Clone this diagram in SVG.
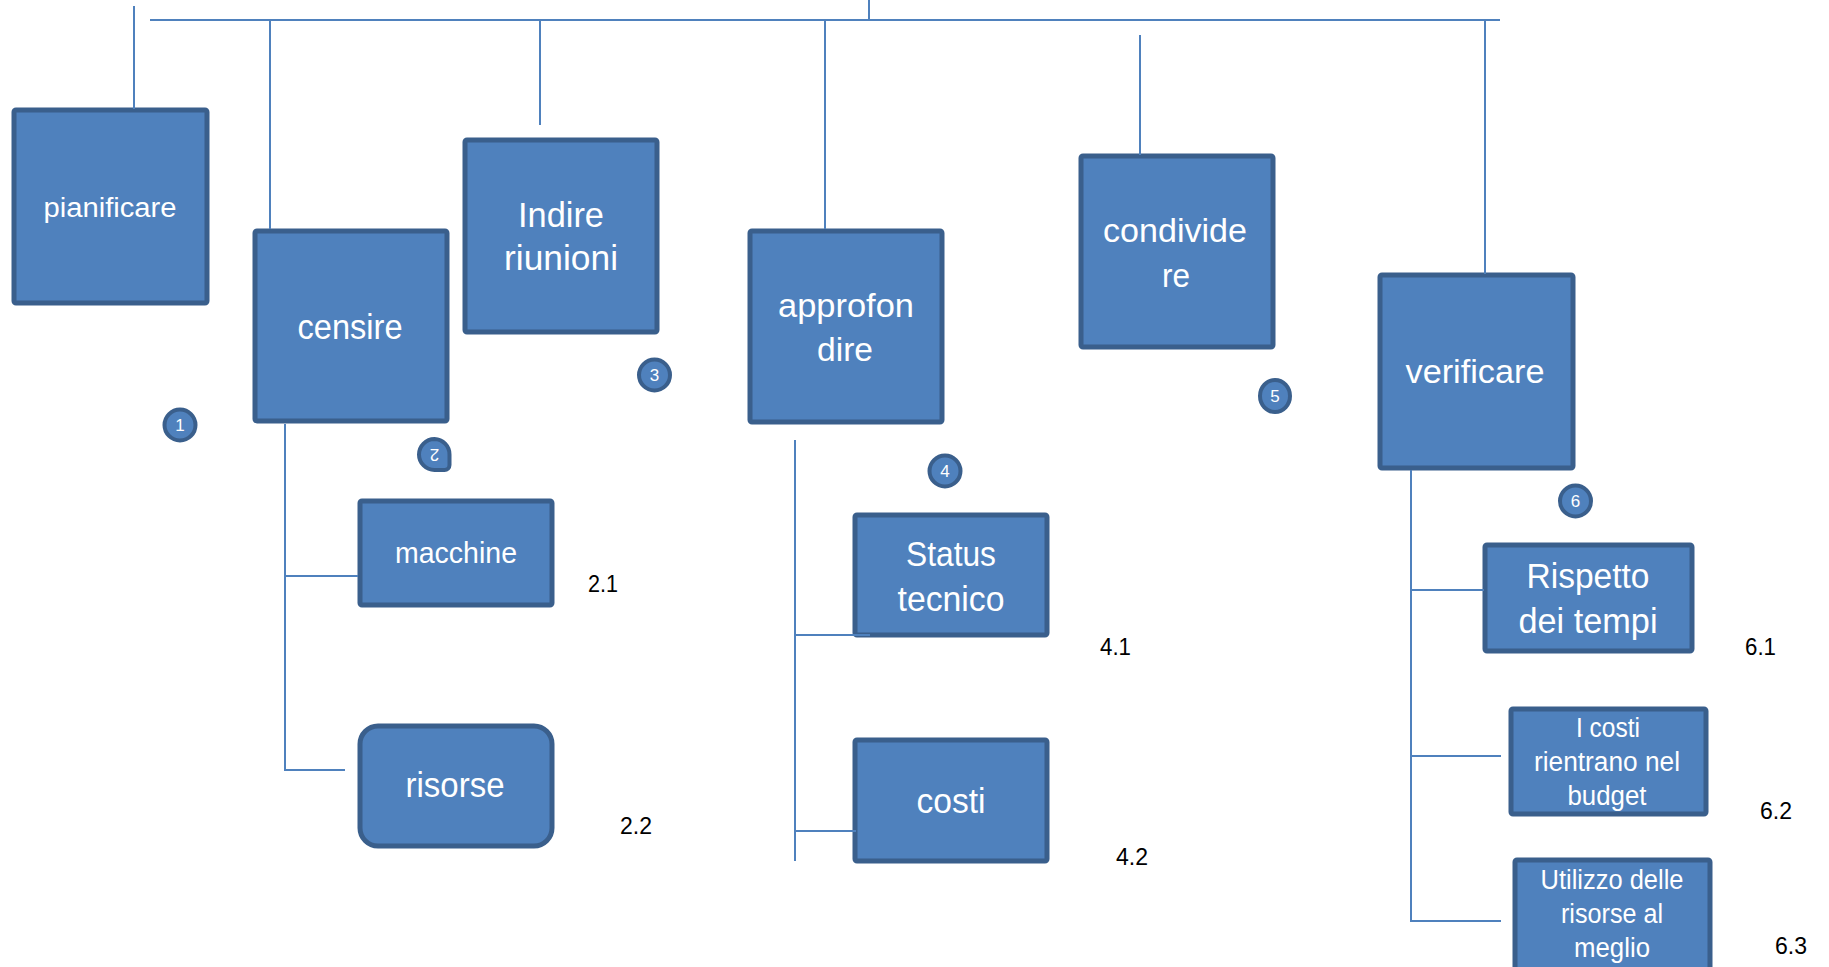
<svg xmlns="http://www.w3.org/2000/svg" width="1829" height="967" viewBox="0 0 1829 967">
<style>
.box{fill:#4F81BD;stroke:#3A5F8C;stroke-width:5}
.t{font-family:"Liberation Sans",Arial,sans-serif;fill:#FFFFFF;text-anchor:middle}
.lbl{font-family:"Liberation Sans",Arial,sans-serif;fill:#000000;font-size:24px;text-anchor:middle}
.ln{stroke:#4F81BD;stroke-width:2;fill:none}
.badge{fill:#4F81BD;stroke:#3A5F8C;stroke-width:4}
.bn{font-family:"Liberation Sans",Arial,sans-serif;fill:#FFFFFF;font-size:17px;text-anchor:middle}
</style>
<rect width="1829" height="967" fill="#FFFFFF"/>
<g id="node-pianificare">
<rect class="box" x="14" y="110" width="193" height="193" rx="2"/>
<text class="t" x="110" y="217" font-size="27" textLength="133" lengthAdjust="spacingAndGlyphs">pianificare</text>
</g>
<g id="node-censire">
<rect class="box" x="255" y="231" width="192" height="190" rx="2"/>
<text class="t" x="350" y="339" font-size="35" textLength="105" lengthAdjust="spacingAndGlyphs">censire</text>
</g>
<g id="node-indire">
<rect class="box" x="465" y="140" width="192" height="192" rx="2"/>
<text class="t" x="561" y="227" font-size="35" textLength="86" lengthAdjust="spacingAndGlyphs">Indire</text>
<text class="t" x="561" y="270" font-size="35" textLength="114" lengthAdjust="spacingAndGlyphs">riunioni</text>
</g>
<g id="node-approfondire">
<rect class="box" x="750" y="231" width="192" height="191" rx="2"/>
<text class="t" x="846" y="317" font-size="34" textLength="136" lengthAdjust="spacingAndGlyphs">approfon</text>
<text class="t" x="845" y="361" font-size="34" textLength="56" lengthAdjust="spacingAndGlyphs">dire</text>
</g>
<g id="node-condividere">
<rect class="box" x="1081" y="156" width="192" height="191" rx="2"/>
<text class="t" x="1175" y="242" font-size="34" textLength="144" lengthAdjust="spacingAndGlyphs">condivide</text>
<text class="t" x="1176" y="287" font-size="34" textLength="28" lengthAdjust="spacingAndGlyphs">re</text>
</g>
<g id="node-verificare">
<rect class="box" x="1380" y="275" width="193" height="193" rx="2"/>
<text class="t" x="1475" y="383" font-size="34" textLength="139" lengthAdjust="spacingAndGlyphs">verificare</text>
</g>
<g id="node-macchine">
<rect class="box" x="360" y="501" width="192" height="104" rx="2"/>
<text class="t" x="456" y="563" font-size="30" textLength="122" lengthAdjust="spacingAndGlyphs">macchine</text>
</g>
<g id="node-risorse">
<rect class="box" x="360" y="726" width="192" height="120" rx="18"/>
<text class="t" x="455" y="797" font-size="35" textLength="99" lengthAdjust="spacingAndGlyphs">risorse</text>
</g>
<g id="node-status">
<rect class="box" x="855" y="515" width="192" height="120" rx="2"/>
<text class="t" x="951" y="566" font-size="35" textLength="90" lengthAdjust="spacingAndGlyphs">Status</text>
<text class="t" x="951" y="611" font-size="35" textLength="107" lengthAdjust="spacingAndGlyphs">tecnico</text>
</g>
<g id="node-costi">
<rect class="box" x="855" y="740" width="192" height="121" rx="2"/>
<text class="t" x="951" y="813" font-size="35" textLength="69" lengthAdjust="spacingAndGlyphs">costi</text>
</g>
<g id="node-rispetto">
<rect class="box" x="1485" y="545" width="207" height="106" rx="2"/>
<text class="t" x="1588" y="588" font-size="35" textLength="123" lengthAdjust="spacingAndGlyphs">Rispetto</text>
<text class="t" x="1588" y="633" font-size="35" textLength="139" lengthAdjust="spacingAndGlyphs">dei tempi</text>
</g>
<g id="node-costibudget">
<rect class="box" x="1511" y="709" width="195" height="105" rx="2"/>
<text class="t" x="1608" y="737" font-size="27" textLength="64" lengthAdjust="spacingAndGlyphs">I costi</text>
<text class="t" x="1607" y="771" font-size="27" textLength="146" lengthAdjust="spacingAndGlyphs">rientrano nel</text>
<text class="t" x="1607" y="805" font-size="27" textLength="79" lengthAdjust="spacingAndGlyphs">budget</text>
</g>
<g id="node-utilizzo">
<rect class="box" x="1515" y="860" width="195" height="120" rx="2"/>
<text class="t" x="1612" y="889" font-size="27" textLength="143" lengthAdjust="spacingAndGlyphs">Utilizzo delle</text>
<text class="t" x="1612" y="923" font-size="27" textLength="102" lengthAdjust="spacingAndGlyphs">risorse al</text>
<text class="t" x="1612" y="957" font-size="27" textLength="76" lengthAdjust="spacingAndGlyphs">meglio</text>
</g>
<g id="connectors">
<line class="ln" x1="869" y1="0" x2="869" y2="20"/>
<line class="ln" x1="150" y1="20" x2="1500" y2="20" stroke-width="3"/>
<line class="ln" x1="134" y1="6" x2="134" y2="109"/>
<line class="ln" x1="270" y1="20" x2="270" y2="229"/>
<line class="ln" x1="540" y1="20" x2="540" y2="125"/>
<line class="ln" x1="825" y1="20" x2="825" y2="229"/>
<line class="ln" x1="1140" y1="35" x2="1140" y2="155"/>
<line class="ln" x1="1485" y1="20" x2="1485" y2="274"/>
<polyline class="ln" points="285,424 285,770 345,770"/>
<line class="ln" x1="285" y1="576" x2="358" y2="576"/>
<line class="ln" x1="795" y1="440" x2="795" y2="861"/>
<line class="ln" x1="795" y1="635" x2="870" y2="635"/>
<line class="ln" x1="795" y1="831" x2="856" y2="831"/>
<polyline class="ln" points="1411,470 1411,921 1501,921"/>
<line class="ln" x1="1411" y1="590" x2="1484" y2="590"/>
<line class="ln" x1="1411" y1="756" x2="1501" y2="756"/>
</g>
<g id="badges">
<circle class="badge" cx="180" cy="425" r="15.5"/>
<text class="bn" x="180" y="431">1</text>
<path class="badge" d="M434.5,439 a15.5,15.5 0 0 0 -15.5,15.5 a15.5,15.5 0 0 0 15.5,15.5 h10 a5,5 0 0 0 5,-5 v-10.5 a15.5,15.5 0 0 0 -15,-15.5 z"/>
<text class="bn" transform="rotate(180 434.5 455)" x="434.5" y="461">2</text>
<circle class="badge" cx="654.5" cy="375" r="15.5"/>
<text class="bn" x="654.5" y="381">3</text>
<circle class="badge" cx="945" cy="471" r="15.5"/>
<text class="bn" x="945" y="477">4</text>
<ellipse class="badge" cx="1275" cy="396" rx="15" ry="16"/>
<text class="bn" x="1275" y="402">5</text>
<circle class="badge" cx="1575.5" cy="501" r="15.5"/>
<text class="bn" x="1575.5" y="507">6</text>
</g>
<g id="labels">
<text class="lbl" x="603" y="592" textLength="30" lengthAdjust="spacingAndGlyphs">2.1</text>
<text class="lbl" x="636" y="834" textLength="32" lengthAdjust="spacingAndGlyphs">2.2</text>
<text class="lbl" x="1115.5" y="655" textLength="31" lengthAdjust="spacingAndGlyphs">4.1</text>
<text class="lbl" x="1132" y="865" textLength="32" lengthAdjust="spacingAndGlyphs">4.2</text>
<text class="lbl" x="1760.5" y="655" textLength="31" lengthAdjust="spacingAndGlyphs">6.1</text>
<text class="lbl" x="1776" y="819" textLength="32" lengthAdjust="spacingAndGlyphs">6.2</text>
<text class="lbl" x="1791" y="954" textLength="32" lengthAdjust="spacingAndGlyphs">6.3</text>
</g>
</svg>
